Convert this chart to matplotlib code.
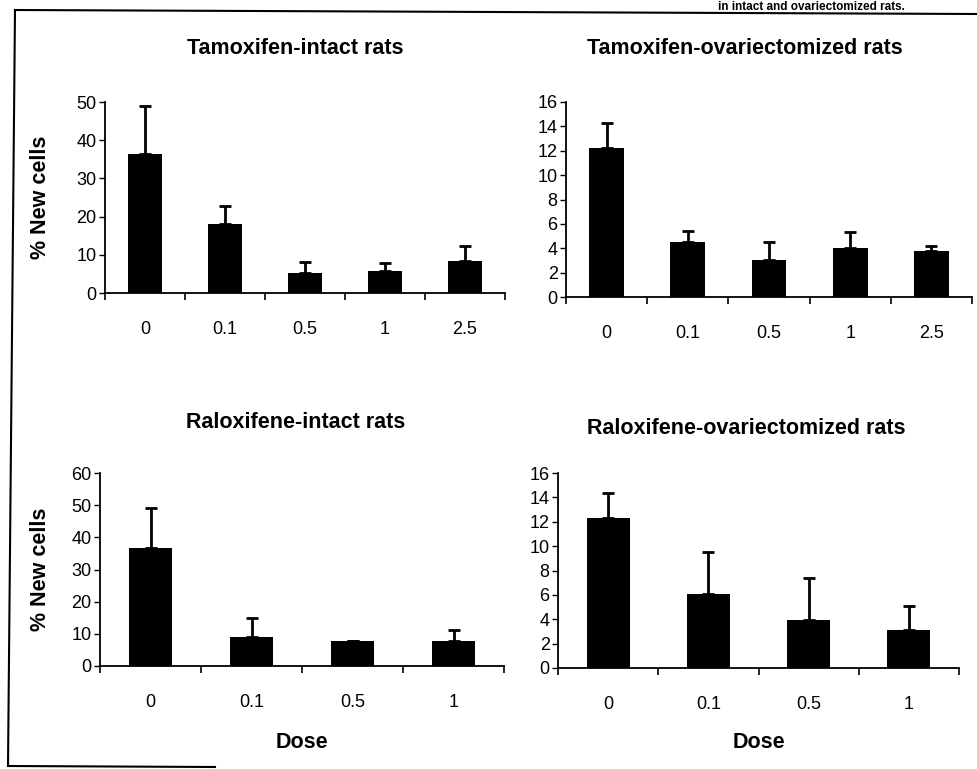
import matplotlib
matplotlib.use("Agg")
import matplotlib.pyplot as plt
from matplotlib.lines import Line2D
from matplotlib.ticker import FixedLocator
import numpy as np

plt.rcParams['font.family'] = ['Liberation Sans', 'DejaVu Sans']

# ---- data ----
tam_doses = ["0", "0.1", "0.5", "1", "2.5"]
ral_doses = ["0", "0.1", "0.5", "1"]

tam_intact_mean = [36.5, 18.0, 5.2, 5.8, 8.4]
tam_intact_err = [12.5, 4.8, 2.8, 2.0, 3.9]

tam_ovx_mean = [12.2, 4.55, 3.0, 4.0, 3.75]
tam_ovx_err = [2.1, 0.85, 1.5, 1.3, 0.45]

ral_intact_mean = [36.8, 8.9, 7.8, 7.8]
ral_intact_err = [12.2, 5.9, 0.0, 3.3]

ral_ovx_mean = [12.3, 6.1, 3.9, 3.15]
ral_ovx_err = [2.1, 3.4, 3.5, 1.9]

titles = ["Tamoxifen-intact rats", "Tamoxifen-ovariectomized rats",
          "Raloxifene-intact rats", "Raloxifene-ovariectomized rats"]
ylabel = "% New cells"
xlabel = "Dose"
header = "in intact and ovariectomized rats."

W, H = 977, 769
fig = plt.figure(figsize=(W / 100, H / 100), dpi=100)


def px_axes(x0, x1, ytop, ybot):
    return fig.add_axes([x0 / W, 1 - ybot / H, (x1 - x0) / W, (ybot - ytop) / H])


panels = [
    dict(rect=(105, 505, 102, 293), doses=tam_doses, mean=tam_intact_mean, err=tam_intact_err,
         ymax=50, ystep=10, title=titles[0], tpos=(295, 48), ylab=True, xlab=False),
    dict(rect=(566, 972, 102, 297), doses=tam_doses, mean=tam_ovx_mean, err=tam_ovx_err,
         ymax=16, ystep=2, title=titles[1], tpos=(745, 48), ylab=False, xlab=False),
    dict(rect=(100, 504, 473, 666), doses=ral_doses, mean=ral_intact_mean, err=ral_intact_err,
         ymax=60, ystep=10, title=titles[2], tpos=(296, 423), ylab=True, xlab=True),
    dict(rect=(558, 959, 473, 668), doses=ral_doses, mean=ral_ovx_mean, err=ral_ovx_err,
         ymax=16, ystep=2, title=titles[3], tpos=(746, 428), ylab=False, xlab=True),
]

for p in panels:
    ax = px_axes(*p["rect"])
    n = len(p["doses"])
    x = np.arange(n) + 0.5
    mean = np.array(p["mean"])
    err = np.array(p["err"])
    ax.bar(x, mean, width=0.43, color="black", zorder=2)
    ax.errorbar(x, mean, yerr=[np.zeros(n), err], fmt="none", ecolor="black",
                elinewidth=2, capsize=4, capthick=2, zorder=1)
    ax.set_xlim(0, n)
    ax.set_ylim(0, p["ymax"])
    ax.set_yticks(np.arange(0, p["ymax"] + 0.1, p["ystep"]))
    ax.set_xticks(x)
    ax.set_xticklabels(p["doses"])
    ax.xaxis.set_minor_locator(FixedLocator(np.arange(0, n + 1)))
    ax.tick_params(axis="x", which="major", length=0, pad=20, labelsize=13)
    ax.tick_params(axis="x", which="minor", length=5, width=1.2, direction="out")
    ax.tick_params(axis="y", length=4, width=1, direction="out", pad=2, labelsize=13)
    for s in ["top", "right"]:
        ax.spines[s].set_visible(False)
    for s in ["left", "bottom"]:
        ax.spines[s].set_linewidth(1.3)
    if p["ylab"]:
        ax.set_ylabel(ylabel, fontsize=15.5, fontweight="bold")
        ax.yaxis.set_label_coords(-(p["rect"][0] - 51) / (p["rect"][1] - p["rect"][0]), 0.5)
    fig.text(p["tpos"][0] / W, 1 - p["tpos"][1] / H, p["title"], fontsize=15.5,
             fontweight="bold", ha="center", va="center")
    if p["xlab"]:
        fig.text((p["rect"][0] + p["rect"][1]) / 2 / W, 1 - 742 / H, xlabel, fontsize=15.5,
                 fontweight="bold", ha="center", va="center")

# frame lines of the scanned figure box
fig.add_artist(Line2D([15 / W, 1.0], [1 - 10 / H, 1 - 14 / H], color="black", lw=1.5))
fig.add_artist(Line2D([15 / W, 8 / W], [1 - 10 / H, 1 - 766 / H], color="black", lw=1.5))
fig.add_artist(Line2D([8 / W, 215 / W], [1 - 766 / H, 1 - 767 / H], color="black", lw=1.5))

# header line at the very top (cut off in the scan)
fig.text(905 / W, 1 - 1 / H, header, fontsize=8.5, fontweight="bold", ha="right", va="top")

fig.savefig("out.png", dpi=100)
